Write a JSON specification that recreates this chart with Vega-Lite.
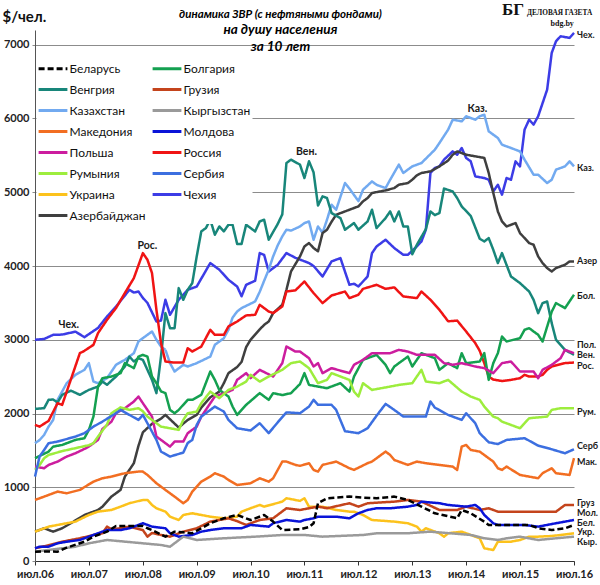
{
  "$schema": "https://vega.github.io/schema/vega-lite/v6.json",
  "width": 539,
  "height": 531,
  "autosize": {"type": "none"},
  "padding": {"left": 35, "top": 30, "right": 26, "bottom": 24},
  "background": "white",
  "title": {
    "text": "динамика ЗВР (с нефтяными фондами)",
    "subtitle": ["на душу населения", "за 10 лет"],
    "font": "Lato",
    "fontSize": 11.5,
    "fontStyle": "italic",
    "fontWeight": "bold",
    "color": "black",
    "subtitleFont": "Lato",
    "subtitleFontSize": 13.5,
    "subtitleFontStyle": "italic",
    "subtitleFontWeight": "bold",
    "subtitleColor": "black",
    "subtitleLineHeight": 17,
    "subtitlePadding": 3,
    "anchor": "middle",
    "dx": -24,
    "offset": -53
  },
  "config": {
    "view": {"stroke": null},
    "font": "Lato"
  },
  "datasets": {
    "series": [
      {"country": "Чехия", "date": "2006-07", "value": 3000},
      {"country": "Чехия", "date": "2006-09", "value": 3010},
      {"country": "Чехия", "date": "2006-11", "value": 3067},
      {"country": "Чехия", "date": "2007-01", "value": 3070},
      {"country": "Чехия", "date": "2007-04", "value": 3110},
      {"country": "Чехия", "date": "2007-06", "value": 3035},
      {"country": "Чехия", "date": "2007-09", "value": 3160},
      {"country": "Чехия", "date": "2007-11", "value": 3315},
      {"country": "Чехия", "date": "2008-01", "value": 3450},
      {"country": "Чехия", "date": "2008-04", "value": 3677},
      {"country": "Чехия", "date": "2008-05", "value": 3640},
      {"country": "Чехия", "date": "2008-06", "value": 3654},
      {"country": "Чехия", "date": "2008-07", "value": 3568},
      {"country": "Чехия", "date": "2008-08", "value": 3500},
      {"country": "Чехия", "date": "2008-10", "value": 3247},
      {"country": "Чехия", "date": "2008-11", "value": 3260},
      {"country": "Чехия", "date": "2008-12", "value": 3542},
      {"country": "Чехия", "date": "2009-01", "value": 3338},
      {"country": "Чехия", "date": "2009-03", "value": 3542},
      {"country": "Чехия", "date": "2009-05", "value": 3677},
      {"country": "Чехия", "date": "2009-07", "value": 3722},
      {"country": "Чехия", "date": "2009-10", "value": 4040},
      {"country": "Чехия", "date": "2009-12", "value": 3950},
      {"country": "Чехия", "date": "2010-02", "value": 3813},
      {"country": "Чехия", "date": "2010-04", "value": 3722},
      {"country": "Чехия", "date": "2010-05", "value": 3590},
      {"country": "Чехия", "date": "2010-06", "value": 3745},
      {"country": "Чехия", "date": "2010-08", "value": 3800},
      {"country": "Чехия", "date": "2010-09", "value": 4175},
      {"country": "Чехия", "date": "2010-10", "value": 4150},
      {"country": "Чехия", "date": "2010-11", "value": 3926},
      {"country": "Чехия", "date": "2011-01", "value": 4017},
      {"country": "Чехия", "date": "2011-03", "value": 4175},
      {"country": "Чехия", "date": "2011-05", "value": 4111},
      {"country": "Чехия", "date": "2011-08", "value": 4040},
      {"country": "Чехия", "date": "2011-09", "value": 4000},
      {"country": "Чехия", "date": "2011-11", "value": 3858},
      {"country": "Чехия", "date": "2012-01", "value": 4062},
      {"country": "Чехия", "date": "2012-03", "value": 4107},
      {"country": "Чехия", "date": "2012-05", "value": 3745},
      {"country": "Чехия", "date": "2012-06", "value": 3760},
      {"country": "Чехия", "date": "2012-07", "value": 3722},
      {"country": "Чехия", "date": "2012-09", "value": 3858},
      {"country": "Чехия", "date": "2012-10", "value": 4175},
      {"country": "Чехия", "date": "2012-11", "value": 4265},
      {"country": "Чехия", "date": "2013-01", "value": 4356},
      {"country": "Чехия", "date": "2013-03", "value": 4243},
      {"country": "Чехия", "date": "2013-05", "value": 4152},
      {"country": "Чехия", "date": "2013-06", "value": 4152},
      {"country": "Чехия", "date": "2013-08", "value": 4265},
      {"country": "Чехия", "date": "2013-09", "value": 4333},
      {"country": "Чехия", "date": "2013-10", "value": 4492},
      {"country": "Чехия", "date": "2013-11", "value": 5261},
      {"country": "Чехия", "date": "2013-12", "value": 5329},
      {"country": "Чехия", "date": "2014-01", "value": 5351},
      {"country": "Чехия", "date": "2014-02", "value": 5442},
      {"country": "Чехия", "date": "2014-04", "value": 5554},
      {"country": "Чехия", "date": "2014-05", "value": 5509},
      {"country": "Чехия", "date": "2014-06", "value": 5600},
      {"country": "Чехия", "date": "2014-07", "value": 5465},
      {"country": "Чехия", "date": "2014-08", "value": 5419},
      {"country": "Чехия", "date": "2014-09", "value": 5215},
      {"country": "Чехия", "date": "2014-11", "value": 5193},
      {"country": "Чехия", "date": "2014-12", "value": 5170},
      {"country": "Чехия", "date": "2015-01", "value": 5011},
      {"country": "Чехия", "date": "2015-02", "value": 5102},
      {"country": "Чехия", "date": "2015-03", "value": 4967},
      {"country": "Чехия", "date": "2015-04", "value": 5193},
      {"country": "Чехия", "date": "2015-05", "value": 5170},
      {"country": "Чехия", "date": "2015-06", "value": 5419},
      {"country": "Чехия", "date": "2015-07", "value": 5351},
      {"country": "Чехия", "date": "2015-08", "value": 5849},
      {"country": "Чехия", "date": "2015-09", "value": 5984},
      {"country": "Чехия", "date": "2015-10", "value": 5917},
      {"country": "Чехия", "date": "2015-11", "value": 6030},
      {"country": "Чехия", "date": "2016-01", "value": 6391},
      {"country": "Чехия", "date": "2016-02", "value": 6890},
      {"country": "Чехия", "date": "2016-03", "value": 7047},
      {"country": "Чехия", "date": "2016-04", "value": 7115},
      {"country": "Чехия", "date": "2016-06", "value": 7093},
      {"country": "Чехия", "date": "2016-07", "value": 7160},

      {"country": "Казахстан", "date": "2006-07", "value": 1597},
      {"country": "Казахстан", "date": "2006-08", "value": 1640},
      {"country": "Казахстан", "date": "2006-09", "value": 1710},
      {"country": "Казахстан", "date": "2006-10", "value": 1822},
      {"country": "Казахстан", "date": "2006-11", "value": 1913},
      {"country": "Казахстан", "date": "2006-12", "value": 2185},
      {"country": "Казахстан", "date": "2007-02", "value": 2411},
      {"country": "Казахстан", "date": "2007-04", "value": 2524},
      {"country": "Казахстан", "date": "2007-06", "value": 2592},
      {"country": "Казахстан", "date": "2007-07", "value": 2683},
      {"country": "Казахстан", "date": "2007-08", "value": 2433},
      {"country": "Казахстан", "date": "2007-09", "value": 2411},
      {"country": "Казахстан", "date": "2007-11", "value": 2479},
      {"country": "Казахстан", "date": "2008-01", "value": 2660},
      {"country": "Казахстан", "date": "2008-03", "value": 2728},
      {"country": "Казахстан", "date": "2008-05", "value": 2818},
      {"country": "Казахстан", "date": "2008-06", "value": 2976},
      {"country": "Казахстан", "date": "2008-07", "value": 3022},
      {"country": "Казахстан", "date": "2008-09", "value": 3112},
      {"country": "Казахстан", "date": "2008-10", "value": 3000},
      {"country": "Казахстан", "date": "2008-11", "value": 2908},
      {"country": "Казахстан", "date": "2008-12", "value": 2863},
      {"country": "Казахстан", "date": "2009-01", "value": 2683},
      {"country": "Казахстан", "date": "2009-02", "value": 2569},
      {"country": "Казахстан", "date": "2009-04", "value": 2660},
      {"country": "Казахстан", "date": "2009-05", "value": 2637},
      {"country": "Казахстан", "date": "2009-07", "value": 2683},
      {"country": "Казахстан", "date": "2009-10", "value": 2772},
      {"country": "Казахстан", "date": "2009-11", "value": 2931},
      {"country": "Казахстан", "date": "2010-01", "value": 3022},
      {"country": "Казахстан", "date": "2010-02", "value": 3135},
      {"country": "Казахстан", "date": "2010-03", "value": 3300},
      {"country": "Казахстан", "date": "2010-04", "value": 3383},
      {"country": "Казахстан", "date": "2010-05", "value": 3429},
      {"country": "Казахстан", "date": "2010-08", "value": 3519},
      {"country": "Казахстан", "date": "2010-09", "value": 3650},
      {"country": "Казахстан", "date": "2010-10", "value": 3800},
      {"country": "Казахстан", "date": "2010-11", "value": 3950},
      {"country": "Казахстан", "date": "2010-12", "value": 4130},
      {"country": "Казахстан", "date": "2011-01", "value": 4280},
      {"country": "Казахстан", "date": "2011-02", "value": 4401},
      {"country": "Казахстан", "date": "2011-03", "value": 4492},
      {"country": "Казахстан", "date": "2011-04", "value": 4480},
      {"country": "Казахстан", "date": "2011-06", "value": 4536},
      {"country": "Казахстан", "date": "2011-07", "value": 4582},
      {"country": "Казахстан", "date": "2011-08", "value": 4604},
      {"country": "Казахстан", "date": "2011-09", "value": 4356},
      {"country": "Казахстан", "date": "2011-10", "value": 4536},
      {"country": "Казахстан", "date": "2011-11", "value": 4450},
      {"country": "Казахстан", "date": "2011-12", "value": 4627},
      {"country": "Казахстан", "date": "2012-01", "value": 4831},
      {"country": "Казахстан", "date": "2012-02", "value": 4763},
      {"country": "Казахстан", "date": "2012-04", "value": 5125},
      {"country": "Казахстан", "date": "2012-05", "value": 5050},
      {"country": "Казахстан", "date": "2012-07", "value": 4880},
      {"country": "Казахстан", "date": "2012-08", "value": 5034},
      {"country": "Казахстан", "date": "2012-10", "value": 5147},
      {"country": "Казахстан", "date": "2012-11", "value": 5100},
      {"country": "Казахстан", "date": "2013-01", "value": 5057},
      {"country": "Казахстан", "date": "2013-02", "value": 5170},
      {"country": "Казахстан", "date": "2013-04", "value": 5374},
      {"country": "Казахстан", "date": "2013-05", "value": 5261},
      {"country": "Казахстан", "date": "2013-07", "value": 5351},
      {"country": "Казахстан", "date": "2013-09", "value": 5396},
      {"country": "Казахстан", "date": "2013-12", "value": 5577},
      {"country": "Казахстан", "date": "2014-01", "value": 5668},
      {"country": "Казахстан", "date": "2014-03", "value": 5849},
      {"country": "Казахстан", "date": "2014-04", "value": 5984},
      {"country": "Казахстан", "date": "2014-06", "value": 5962},
      {"country": "Казахстан", "date": "2014-07", "value": 6030},
      {"country": "Казахстан", "date": "2014-09", "value": 5984},
      {"country": "Казахстан", "date": "2014-10", "value": 6030},
      {"country": "Казахстан", "date": "2014-11", "value": 6052},
      {"country": "Казахстан", "date": "2014-12", "value": 5826},
      {"country": "Казахстан", "date": "2015-02", "value": 5736},
      {"country": "Казахстан", "date": "2015-03", "value": 5645},
      {"country": "Казахстан", "date": "2015-05", "value": 5600},
      {"country": "Казахстан", "date": "2015-07", "value": 5554},
      {"country": "Казахстан", "date": "2015-08", "value": 5442},
      {"country": "Казахстан", "date": "2015-10", "value": 5238},
      {"country": "Казахстан", "date": "2015-11", "value": 5238},
      {"country": "Казахстан", "date": "2016-01", "value": 5125},
      {"country": "Казахстан", "date": "2016-02", "value": 5170},
      {"country": "Казахстан", "date": "2016-03", "value": 5306},
      {"country": "Казахстан", "date": "2016-05", "value": 5351},
      {"country": "Казахстан", "date": "2016-06", "value": 5419},
      {"country": "Казахстан", "date": "2016-07", "value": 5351},

      {"country": "Азербайджан", "date": "2006-07", "value": 398},
      {"country": "Азербайджан", "date": "2006-09", "value": 444},
      {"country": "Азербайджан", "date": "2006-11", "value": 398},
      {"country": "Азербайджан", "date": "2007-01", "value": 444},
      {"country": "Азербайджан", "date": "2007-03", "value": 512},
      {"country": "Азербайджан", "date": "2007-06", "value": 624},
      {"country": "Азербайджан", "date": "2007-09", "value": 692},
      {"country": "Азербайджан", "date": "2007-10", "value": 737},
      {"country": "Азербайджан", "date": "2007-12", "value": 873},
      {"country": "Азербайджан", "date": "2008-02", "value": 964},
      {"country": "Азербайджан", "date": "2008-03", "value": 1144},
      {"country": "Азербайджан", "date": "2008-05", "value": 1326},
      {"country": "Азербайджан", "date": "2008-06", "value": 1560},
      {"country": "Азербайджан", "date": "2008-07", "value": 1745},
      {"country": "Азербайджан", "date": "2008-09", "value": 1860},
      {"country": "Азербайджан", "date": "2008-11", "value": 1930},
      {"country": "Азербайджан", "date": "2008-12", "value": 1981},
      {"country": "Азербайджан", "date": "2009-03", "value": 1810},
      {"country": "Азербайджан", "date": "2009-05", "value": 1913},
      {"country": "Азербайджан", "date": "2009-07", "value": 1981},
      {"country": "Азербайджан", "date": "2009-08", "value": 2080},
      {"country": "Азербайджан", "date": "2009-10", "value": 2220},
      {"country": "Азербайджан", "date": "2009-12", "value": 2297},
      {"country": "Азербайджан", "date": "2010-01", "value": 2411},
      {"country": "Азербайджан", "date": "2010-02", "value": 2547},
      {"country": "Азербайджан", "date": "2010-04", "value": 2630},
      {"country": "Азербайджан", "date": "2010-05", "value": 2700},
      {"country": "Азербайджан", "date": "2010-06", "value": 2900},
      {"country": "Азербайджан", "date": "2010-07", "value": 3000},
      {"country": "Азербайджан", "date": "2010-09", "value": 3140},
      {"country": "Азербайджан", "date": "2010-10", "value": 3202},
      {"country": "Азербайджан", "date": "2010-11", "value": 3247},
      {"country": "Азербайджан", "date": "2010-12", "value": 3361},
      {"country": "Азербайджан", "date": "2011-02", "value": 3474},
      {"country": "Азербайджан", "date": "2011-03", "value": 3677},
      {"country": "Азербайджан", "date": "2011-04", "value": 3926},
      {"country": "Азербайджан", "date": "2011-06", "value": 4130},
      {"country": "Азербайджан", "date": "2011-07", "value": 4265},
      {"country": "Азербайджан", "date": "2011-08", "value": 4311},
      {"country": "Азербайджан", "date": "2011-09", "value": 4243},
      {"country": "Азербайджан", "date": "2011-10", "value": 4200},
      {"country": "Азербайджан", "date": "2011-11", "value": 4446},
      {"country": "Азербайджан", "date": "2011-12", "value": 4492},
      {"country": "Азербайджан", "date": "2012-01", "value": 4600},
      {"country": "Азербайджан", "date": "2012-02", "value": 4695},
      {"country": "Азербайджан", "date": "2012-04", "value": 4740},
      {"country": "Азербайджан", "date": "2012-06", "value": 4786},
      {"country": "Азербайджан", "date": "2012-07", "value": 4808},
      {"country": "Азербайджан", "date": "2012-08", "value": 4876},
      {"country": "Азербайджан", "date": "2012-09", "value": 4922},
      {"country": "Азербайджан", "date": "2012-10", "value": 4990},
      {"country": "Азербайджан", "date": "2013-01", "value": 5025},
      {"country": "Азербайджан", "date": "2013-03", "value": 5057},
      {"country": "Азербайджан", "date": "2013-04", "value": 5102},
      {"country": "Азербайджан", "date": "2013-06", "value": 5125},
      {"country": "Азербайджан", "date": "2013-07", "value": 5170},
      {"country": "Азербайджан", "date": "2013-08", "value": 5230},
      {"country": "Азербайджан", "date": "2013-09", "value": 5261},
      {"country": "Азербайджан", "date": "2013-11", "value": 5283},
      {"country": "Азербайджан", "date": "2014-01", "value": 5351},
      {"country": "Азербайджан", "date": "2014-03", "value": 5430},
      {"country": "Азербайджан", "date": "2014-04", "value": 5509},
      {"country": "Азербайджан", "date": "2014-05", "value": 5554},
      {"country": "Азербайджан", "date": "2014-07", "value": 5509},
      {"country": "Азербайджан", "date": "2014-09", "value": 5487},
      {"country": "Азербайджан", "date": "2014-11", "value": 5465},
      {"country": "Азербайджан", "date": "2014-12", "value": 5261},
      {"country": "Азербайджан", "date": "2015-01", "value": 4990},
      {"country": "Азербайджан", "date": "2015-02", "value": 4740},
      {"country": "Азербайджан", "date": "2015-03", "value": 4604},
      {"country": "Азербайджан", "date": "2015-04", "value": 4536},
      {"country": "Азербайджан", "date": "2015-06", "value": 4582},
      {"country": "Азербайджан", "date": "2015-07", "value": 4446},
      {"country": "Азербайджан", "date": "2015-09", "value": 4311},
      {"country": "Азербайджан", "date": "2015-10", "value": 4288},
      {"country": "Азербайджан", "date": "2015-11", "value": 4130},
      {"country": "Азербайджан", "date": "2015-12", "value": 4040},
      {"country": "Азербайджан", "date": "2016-01", "value": 3972},
      {"country": "Азербайджан", "date": "2016-02", "value": 3926},
      {"country": "Азербайджан", "date": "2016-03", "value": 3972},
      {"country": "Азербайджан", "date": "2016-05", "value": 4017},
      {"country": "Азербайджан", "date": "2016-06", "value": 4062},
      {"country": "Азербайджан", "date": "2016-07", "value": 4062},

      {"country": "Венгрия", "date": "2006-07", "value": 2063},
      {"country": "Венгрия", "date": "2006-09", "value": 2072},
      {"country": "Венгрия", "date": "2006-10", "value": 2185},
      {"country": "Венгрия", "date": "2006-11", "value": 2190},
      {"country": "Венгрия", "date": "2006-12", "value": 2150},
      {"country": "Венгрия", "date": "2007-01", "value": 2253},
      {"country": "Венгрия", "date": "2007-03", "value": 2310},
      {"country": "Венгрия", "date": "2007-05", "value": 2253},
      {"country": "Венгрия", "date": "2007-07", "value": 2320},
      {"country": "Венгрия", "date": "2007-09", "value": 2365},
      {"country": "Венгрия", "date": "2007-10", "value": 2433},
      {"country": "Венгрия", "date": "2007-11", "value": 2390},
      {"country": "Венгрия", "date": "2008-01", "value": 2501},
      {"country": "Венгрия", "date": "2008-03", "value": 2637},
      {"country": "Венгрия", "date": "2008-04", "value": 2772},
      {"country": "Венгрия", "date": "2008-05", "value": 2705},
      {"country": "Венгрия", "date": "2008-06", "value": 2750},
      {"country": "Венгрия", "date": "2008-07", "value": 2728},
      {"country": "Венгрия", "date": "2008-08", "value": 2592},
      {"country": "Венгрия", "date": "2008-09", "value": 2456},
      {"country": "Венгрия", "date": "2008-10", "value": 2276},
      {"country": "Венгрия", "date": "2008-11", "value": 2772},
      {"country": "Венгрия", "date": "2008-12", "value": 3361},
      {"country": "Венгрия", "date": "2009-01", "value": 3157},
      {"country": "Венгрия", "date": "2009-02", "value": 3157},
      {"country": "Венгрия", "date": "2009-03", "value": 3700},
      {"country": "Венгрия", "date": "2009-04", "value": 3542},
      {"country": "Венгрия", "date": "2009-05", "value": 3677},
      {"country": "Венгрия", "date": "2009-06", "value": 3768},
      {"country": "Венгрия", "date": "2009-07", "value": 4130},
      {"country": "Венгрия", "date": "2009-08", "value": 4469},
      {"country": "Венгрия", "date": "2009-09", "value": 4514},
      {"country": "Венгрия", "date": "2009-10", "value": 4627},
      {"country": "Венгрия", "date": "2009-11", "value": 4424},
      {"country": "Венгрия", "date": "2009-12", "value": 4536},
      {"country": "Венгрия", "date": "2010-01", "value": 4469},
      {"country": "Венгрия", "date": "2010-02", "value": 4559},
      {"country": "Венгрия", "date": "2010-03", "value": 4559},
      {"country": "Венгрия", "date": "2010-04", "value": 4300},
      {"country": "Венгрия", "date": "2010-05", "value": 4300},
      {"country": "Венгрия", "date": "2010-06", "value": 4559},
      {"country": "Венгрия", "date": "2010-08", "value": 4469},
      {"country": "Венгрия", "date": "2010-09", "value": 4605},
      {"country": "Венгрия", "date": "2010-10", "value": 4627},
      {"country": "Венгрия", "date": "2010-11", "value": 4356},
      {"country": "Венгрия", "date": "2011-01", "value": 4570},
      {"country": "Венгрия", "date": "2011-02", "value": 4700},
      {"country": "Венгрия", "date": "2011-03", "value": 5396},
      {"country": "Венгрия", "date": "2011-04", "value": 5442},
      {"country": "Венгрия", "date": "2011-06", "value": 5374},
      {"country": "Венгрия", "date": "2011-07", "value": 5193},
      {"country": "Венгрия", "date": "2011-08", "value": 5420},
      {"country": "Венгрия", "date": "2011-09", "value": 5270},
      {"country": "Венгрия", "date": "2011-10", "value": 4820},
      {"country": "Венгрия", "date": "2011-11", "value": 4944},
      {"country": "Венгрия", "date": "2011-12", "value": 4922},
      {"country": "Венгрия", "date": "2012-01", "value": 4718},
      {"country": "Венгрия", "date": "2012-03", "value": 4650},
      {"country": "Венгрия", "date": "2012-04", "value": 4492},
      {"country": "Венгрия", "date": "2012-05", "value": 4536},
      {"country": "Венгрия", "date": "2012-06", "value": 4582},
      {"country": "Венгрия", "date": "2012-07", "value": 4492},
      {"country": "Венгрия", "date": "2012-09", "value": 4604},
      {"country": "Венгрия", "date": "2012-10", "value": 4763},
      {"country": "Венгрия", "date": "2012-11", "value": 4514},
      {"country": "Венгрия", "date": "2013-01", "value": 4650},
      {"country": "Венгрия", "date": "2013-02", "value": 4740},
      {"country": "Венгрия", "date": "2013-03", "value": 4604},
      {"country": "Венгрия", "date": "2013-04", "value": 4740},
      {"country": "Венгрия", "date": "2013-05", "value": 4536},
      {"country": "Венгрия", "date": "2013-06", "value": 4536},
      {"country": "Венгрия", "date": "2013-07", "value": 4160},
      {"country": "Венгрия", "date": "2013-08", "value": 4288},
      {"country": "Венгрия", "date": "2013-10", "value": 4500},
      {"country": "Венгрия", "date": "2013-11", "value": 4740},
      {"country": "Венгрия", "date": "2013-12", "value": 4690},
      {"country": "Венгрия", "date": "2014-01", "value": 4718},
      {"country": "Венгрия", "date": "2014-02", "value": 5050},
      {"country": "Венгрия", "date": "2014-04", "value": 5011},
      {"country": "Венгрия", "date": "2014-05", "value": 4922},
      {"country": "Венгрия", "date": "2014-06", "value": 4808},
      {"country": "Венгрия", "date": "2014-08", "value": 4680},
      {"country": "Венгрия", "date": "2014-10", "value": 4370},
      {"country": "Венгрия", "date": "2014-11", "value": 4333},
      {"country": "Венгрия", "date": "2014-12", "value": 4378},
      {"country": "Венгрия", "date": "2015-01", "value": 4220},
      {"country": "Венгрия", "date": "2015-02", "value": 4040},
      {"country": "Венгрия", "date": "2015-03", "value": 4175},
      {"country": "Венгрия", "date": "2015-05", "value": 3858},
      {"country": "Венгрия", "date": "2015-07", "value": 3768},
      {"country": "Венгрия", "date": "2015-09", "value": 3654},
      {"country": "Венгрия", "date": "2015-10", "value": 3542},
      {"country": "Венгрия", "date": "2015-11", "value": 3361},
      {"country": "Венгрия", "date": "2015-12", "value": 3497},
      {"country": "Венгрия", "date": "2016-01", "value": 3519},
      {"country": "Венгрия", "date": "2016-02", "value": 3225},
      {"country": "Венгрия", "date": "2016-03", "value": 3000},
      {"country": "Венгрия", "date": "2016-05", "value": 2863},
      {"country": "Венгрия", "date": "2016-07", "value": 2795},

      {"country": "Россия", "date": "2006-07", "value": 1846},
      {"country": "Россия", "date": "2006-08", "value": 1822},
      {"country": "Россия", "date": "2006-10", "value": 1900},
      {"country": "Россия", "date": "2006-12", "value": 2140},
      {"country": "Россия", "date": "2007-01", "value": 2117},
      {"country": "Россия", "date": "2007-02", "value": 2297},
      {"country": "Россия", "date": "2007-05", "value": 2818},
      {"country": "Россия", "date": "2007-06", "value": 2850},
      {"country": "Россия", "date": "2007-08", "value": 2931},
      {"country": "Россия", "date": "2007-09", "value": 3090},
      {"country": "Россия", "date": "2007-11", "value": 3270},
      {"country": "Россия", "date": "2008-01", "value": 3430},
      {"country": "Россия", "date": "2008-03", "value": 3633},
      {"country": "Россия", "date": "2008-05", "value": 3836},
      {"country": "Россия", "date": "2008-07", "value": 4175},
      {"country": "Россия", "date": "2008-08", "value": 4085},
      {"country": "Россия", "date": "2008-09", "value": 3904},
      {"country": "Россия", "date": "2008-10", "value": 3406},
      {"country": "Россия", "date": "2008-11", "value": 2954},
      {"country": "Россия", "date": "2008-12", "value": 2705},
      {"country": "Россия", "date": "2009-02", "value": 2690},
      {"country": "Россия", "date": "2009-04", "value": 2690},
      {"country": "Россия", "date": "2009-05", "value": 2886},
      {"country": "Россия", "date": "2009-06", "value": 2840},
      {"country": "Россия", "date": "2009-08", "value": 2908},
      {"country": "Россия", "date": "2009-10", "value": 3135},
      {"country": "Россия", "date": "2009-11", "value": 3067},
      {"country": "Россия", "date": "2010-01", "value": 3067},
      {"country": "Россия", "date": "2010-02", "value": 3180},
      {"country": "Россия", "date": "2010-04", "value": 3247},
      {"country": "Россия", "date": "2010-06", "value": 3330},
      {"country": "Россия", "date": "2010-08", "value": 3338},
      {"country": "Россия", "date": "2010-09", "value": 3474},
      {"country": "Россия", "date": "2010-11", "value": 3383},
      {"country": "Россия", "date": "2010-12", "value": 3361},
      {"country": "Россия", "date": "2011-02", "value": 3451},
      {"country": "Россия", "date": "2011-03", "value": 3654},
      {"country": "Россия", "date": "2011-05", "value": 3670},
      {"country": "Россия", "date": "2011-07", "value": 3790},
      {"country": "Россия", "date": "2011-09", "value": 3633},
      {"country": "Россия", "date": "2011-11", "value": 3497},
      {"country": "Россия", "date": "2012-01", "value": 3600},
      {"country": "Россия", "date": "2012-04", "value": 3654},
      {"country": "Россия", "date": "2012-05", "value": 3565},
      {"country": "Россия", "date": "2012-07", "value": 3610},
      {"country": "Россия", "date": "2012-08", "value": 3690},
      {"country": "Россия", "date": "2012-11", "value": 3745},
      {"country": "Россия", "date": "2013-01", "value": 3690},
      {"country": "Россия", "date": "2013-03", "value": 3710},
      {"country": "Россия", "date": "2013-05", "value": 3587},
      {"country": "Россия", "date": "2013-08", "value": 3565},
      {"country": "Россия", "date": "2013-09", "value": 3654},
      {"country": "Россия", "date": "2013-11", "value": 3542},
      {"country": "Россия", "date": "2014-01", "value": 3406},
      {"country": "Россия", "date": "2014-03", "value": 3250},
      {"country": "Россия", "date": "2014-05", "value": 3260},
      {"country": "Россия", "date": "2014-07", "value": 3112},
      {"country": "Россия", "date": "2014-09", "value": 2954},
      {"country": "Россия", "date": "2014-10", "value": 2850},
      {"country": "Россия", "date": "2014-11", "value": 2683},
      {"country": "Россия", "date": "2014-12", "value": 2500},
      {"country": "Россия", "date": "2015-01", "value": 2460},
      {"country": "Россия", "date": "2015-03", "value": 2440},
      {"country": "Россия", "date": "2015-05", "value": 2456},
      {"country": "Россия", "date": "2015-07", "value": 2479},
      {"country": "Россия", "date": "2015-08", "value": 2524},
      {"country": "Россия", "date": "2015-09", "value": 2501},
      {"country": "Россия", "date": "2015-11", "value": 2501},
      {"country": "Россия", "date": "2015-12", "value": 2524},
      {"country": "Россия", "date": "2016-01", "value": 2592},
      {"country": "Россия", "date": "2016-02", "value": 2637},
      {"country": "Россия", "date": "2016-05", "value": 2683},
      {"country": "Россия", "date": "2016-07", "value": 2691},

      {"country": "Болгария", "date": "2006-07", "value": 1394},
      {"country": "Болгария", "date": "2006-10", "value": 1483},
      {"country": "Болгария", "date": "2006-11", "value": 1551},
      {"country": "Болгария", "date": "2007-01", "value": 1574},
      {"country": "Болгария", "date": "2007-02", "value": 1597},
      {"country": "Болгария", "date": "2007-04", "value": 1642},
      {"country": "Болгария", "date": "2007-06", "value": 1665},
      {"country": "Болгария", "date": "2007-07", "value": 1778},
      {"country": "Болгария", "date": "2007-08", "value": 1958},
      {"country": "Болгария", "date": "2007-09", "value": 2365},
      {"country": "Болгария", "date": "2007-10", "value": 2479},
      {"country": "Болгария", "date": "2007-12", "value": 2501},
      {"country": "Болгария", "date": "2008-02", "value": 2547},
      {"country": "Болгария", "date": "2008-03", "value": 2683},
      {"country": "Болгария", "date": "2008-05", "value": 2615},
      {"country": "Болгария", "date": "2008-06", "value": 2772},
      {"country": "Болгария", "date": "2008-07", "value": 2795},
      {"country": "Болгария", "date": "2008-08", "value": 2772},
      {"country": "Болгария", "date": "2008-09", "value": 2501},
      {"country": "Болгария", "date": "2008-10", "value": 2411},
      {"country": "Болгария", "date": "2008-11", "value": 2300},
      {"country": "Болгария", "date": "2008-12", "value": 2276},
      {"country": "Болгария", "date": "2009-01", "value": 2049},
      {"country": "Болгария", "date": "2009-02", "value": 2004},
      {"country": "Болгария", "date": "2009-03", "value": 2049},
      {"country": "Болгария", "date": "2009-05", "value": 2185},
      {"country": "Болгария", "date": "2009-06", "value": 2185},
      {"country": "Болгария", "date": "2009-08", "value": 2253},
      {"country": "Болгария", "date": "2009-10", "value": 2569},
      {"country": "Болгария", "date": "2009-11", "value": 2456},
      {"country": "Болгария", "date": "2009-12", "value": 2320},
      {"country": "Болгария", "date": "2010-02", "value": 2230},
      {"country": "Болгария", "date": "2010-03", "value": 2094},
      {"country": "Болгария", "date": "2010-04", "value": 1981},
      {"country": "Болгария", "date": "2010-06", "value": 2117},
      {"country": "Болгария", "date": "2010-09", "value": 2276},
      {"country": "Болгария", "date": "2010-11", "value": 2185},
      {"country": "Болгария", "date": "2010-12", "value": 2276},
      {"country": "Болгария", "date": "2011-02", "value": 2250},
      {"country": "Болгария", "date": "2011-04", "value": 2276},
      {"country": "Болгария", "date": "2011-06", "value": 2400},
      {"country": "Болгария", "date": "2011-07", "value": 2547},
      {"country": "Болгария", "date": "2011-08", "value": 2388},
      {"country": "Болгария", "date": "2011-10", "value": 2365},
      {"country": "Болгария", "date": "2011-12", "value": 2343},
      {"country": "Болгария", "date": "2012-03", "value": 2411},
      {"country": "Болгария", "date": "2012-05", "value": 2297},
      {"country": "Болгария", "date": "2012-06", "value": 2501},
      {"country": "Болгария", "date": "2012-08", "value": 2728},
      {"country": "Болгария", "date": "2012-11", "value": 2795},
      {"country": "Болгария", "date": "2013-01", "value": 2660},
      {"country": "Болгария", "date": "2013-02", "value": 2547},
      {"country": "Болгария", "date": "2013-03", "value": 2637},
      {"country": "Болгария", "date": "2013-06", "value": 2772},
      {"country": "Болгария", "date": "2013-07", "value": 2637},
      {"country": "Болгария", "date": "2013-09", "value": 2818},
      {"country": "Болгария", "date": "2013-12", "value": 2750},
      {"country": "Болгария", "date": "2014-01", "value": 2592},
      {"country": "Болгария", "date": "2014-03", "value": 2683},
      {"country": "Болгария", "date": "2014-05", "value": 2615},
      {"country": "Болгария", "date": "2014-06", "value": 2818},
      {"country": "Болгария", "date": "2014-07", "value": 2683},
      {"country": "Болгария", "date": "2014-10", "value": 2705},
      {"country": "Болгария", "date": "2014-11", "value": 2818},
      {"country": "Болгария", "date": "2014-12", "value": 2456},
      {"country": "Болгария", "date": "2015-01", "value": 2683},
      {"country": "Болгария", "date": "2015-02", "value": 2818},
      {"country": "Болгария", "date": "2015-03", "value": 3044},
      {"country": "Болгария", "date": "2015-04", "value": 2976},
      {"country": "Болгария", "date": "2015-07", "value": 3022},
      {"country": "Болгария", "date": "2015-08", "value": 3135},
      {"country": "Болгария", "date": "2015-09", "value": 3157},
      {"country": "Болгария", "date": "2015-11", "value": 3067},
      {"country": "Болгария", "date": "2015-12", "value": 2976},
      {"country": "Болгария", "date": "2016-02", "value": 3380},
      {"country": "Болгария", "date": "2016-03", "value": 3497},
      {"country": "Болгария", "date": "2016-05", "value": 3429},
      {"country": "Болгария", "date": "2016-07", "value": 3610},

      {"country": "Польша", "date": "2006-07", "value": 1280},
      {"country": "Польша", "date": "2006-09", "value": 1258},
      {"country": "Польша", "date": "2006-10", "value": 1303},
      {"country": "Польша", "date": "2006-12", "value": 1348},
      {"country": "Польша", "date": "2007-02", "value": 1416},
      {"country": "Польша", "date": "2007-04", "value": 1461},
      {"country": "Польша", "date": "2007-06", "value": 1520},
      {"country": "Польша", "date": "2007-07", "value": 1551},
      {"country": "Польша", "date": "2007-08", "value": 1597},
      {"country": "Польша", "date": "2007-09", "value": 1642},
      {"country": "Польша", "date": "2007-10", "value": 1790},
      {"country": "Польша", "date": "2007-12", "value": 1890},
      {"country": "Польша", "date": "2008-01", "value": 2004},
      {"country": "Польша", "date": "2008-03", "value": 2072},
      {"country": "Польша", "date": "2008-04", "value": 2117},
      {"country": "Польша", "date": "2008-05", "value": 2162},
      {"country": "Польша", "date": "2008-06", "value": 2230},
      {"country": "Польша", "date": "2008-07", "value": 2140},
      {"country": "Польша", "date": "2008-09", "value": 1958},
      {"country": "Польша", "date": "2008-10", "value": 1687},
      {"country": "Польша", "date": "2008-11", "value": 1642},
      {"country": "Польша", "date": "2009-01", "value": 1551},
      {"country": "Польша", "date": "2009-02", "value": 1619},
      {"country": "Польша", "date": "2009-04", "value": 1619},
      {"country": "Польша", "date": "2009-05", "value": 1733},
      {"country": "Польша", "date": "2009-07", "value": 1822},
      {"country": "Польша", "date": "2009-08", "value": 1958},
      {"country": "Польша", "date": "2009-11", "value": 2230},
      {"country": "Польша", "date": "2010-02", "value": 2297},
      {"country": "Польша", "date": "2010-03", "value": 2320},
      {"country": "Польша", "date": "2010-04", "value": 2456},
      {"country": "Польша", "date": "2010-06", "value": 2547},
      {"country": "Польша", "date": "2010-07", "value": 2479},
      {"country": "Польша", "date": "2010-09", "value": 2592},
      {"country": "Польша", "date": "2010-12", "value": 2501},
      {"country": "Польша", "date": "2011-02", "value": 2683},
      {"country": "Польша", "date": "2011-03", "value": 2908},
      {"country": "Польша", "date": "2011-05", "value": 2840},
      {"country": "Польша", "date": "2011-06", "value": 2840},
      {"country": "Польша", "date": "2011-08", "value": 2750},
      {"country": "Польша", "date": "2011-09", "value": 2637},
      {"country": "Польша", "date": "2011-10", "value": 2683},
      {"country": "Польша", "date": "2011-11", "value": 2547},
      {"country": "Польша", "date": "2012-01", "value": 2615},
      {"country": "Польша", "date": "2012-05", "value": 2547},
      {"country": "Польша", "date": "2012-06", "value": 2660},
      {"country": "Польша", "date": "2012-08", "value": 2728},
      {"country": "Польша", "date": "2012-10", "value": 2818},
      {"country": "Польша", "date": "2013-02", "value": 2818},
      {"country": "Польша", "date": "2013-04", "value": 2863},
      {"country": "Польша", "date": "2013-06", "value": 2840},
      {"country": "Польша", "date": "2013-08", "value": 2795},
      {"country": "Польша", "date": "2013-12", "value": 2795},
      {"country": "Польша", "date": "2014-02", "value": 2683},
      {"country": "Польша", "date": "2014-04", "value": 2660},
      {"country": "Польша", "date": "2014-06", "value": 2683},
      {"country": "Польша", "date": "2014-09", "value": 2637},
      {"country": "Польша", "date": "2014-11", "value": 2615},
      {"country": "Польша", "date": "2015-01", "value": 2547},
      {"country": "Польша", "date": "2015-03", "value": 2683},
      {"country": "Польша", "date": "2015-05", "value": 2705},
      {"country": "Польша", "date": "2015-07", "value": 2569},
      {"country": "Польша", "date": "2015-10", "value": 2569},
      {"country": "Польша", "date": "2015-11", "value": 2479},
      {"country": "Польша", "date": "2015-12", "value": 2592},
      {"country": "Польша", "date": "2016-02", "value": 2660},
      {"country": "Польша", "date": "2016-04", "value": 2750},
      {"country": "Польша", "date": "2016-05", "value": 2863},
      {"country": "Польша", "date": "2016-07", "value": 2818},

      {"country": "Румыния", "date": "2006-07", "value": 1235},
      {"country": "Румыния", "date": "2006-08", "value": 1300},
      {"country": "Румыния", "date": "2006-09", "value": 1394},
      {"country": "Румыния", "date": "2006-10", "value": 1438},
      {"country": "Румыния", "date": "2007-01", "value": 1490},
      {"country": "Румыния", "date": "2007-04", "value": 1530},
      {"country": "Румыния", "date": "2007-07", "value": 1570},
      {"country": "Румыния", "date": "2007-08", "value": 1597},
      {"country": "Румыния", "date": "2007-09", "value": 1687},
      {"country": "Румыния", "date": "2007-11", "value": 1850},
      {"country": "Румыния", "date": "2007-12", "value": 2004},
      {"country": "Румыния", "date": "2008-02", "value": 2083},
      {"country": "Румыния", "date": "2008-04", "value": 2049},
      {"country": "Румыния", "date": "2008-06", "value": 2072},
      {"country": "Румыния", "date": "2008-07", "value": 2030},
      {"country": "Румыния", "date": "2008-08", "value": 1958},
      {"country": "Румыния", "date": "2008-09", "value": 1913},
      {"country": "Румыния", "date": "2008-11", "value": 1822},
      {"country": "Румыния", "date": "2009-01", "value": 1800},
      {"country": "Румыния", "date": "2009-03", "value": 1778},
      {"country": "Румыния", "date": "2009-04", "value": 1913},
      {"country": "Румыния", "date": "2009-05", "value": 2004},
      {"country": "Румыния", "date": "2009-07", "value": 2026},
      {"country": "Румыния", "date": "2009-08", "value": 2140},
      {"country": "Румыния", "date": "2009-10", "value": 2297},
      {"country": "Румыния", "date": "2009-12", "value": 2208},
      {"country": "Румыния", "date": "2010-02", "value": 2320},
      {"country": "Румыния", "date": "2010-04", "value": 2365},
      {"country": "Румыния", "date": "2010-06", "value": 2433},
      {"country": "Румыния", "date": "2010-07", "value": 2524},
      {"country": "Румыния", "date": "2010-09", "value": 2433},
      {"country": "Румыния", "date": "2010-11", "value": 2501},
      {"country": "Румыния", "date": "2011-02", "value": 2592},
      {"country": "Румыния", "date": "2011-04", "value": 2683},
      {"country": "Румыния", "date": "2011-06", "value": 2705},
      {"country": "Румыния", "date": "2011-08", "value": 2615},
      {"country": "Румыния", "date": "2011-10", "value": 2411},
      {"country": "Румыния", "date": "2011-12", "value": 2456},
      {"country": "Румыния", "date": "2012-01", "value": 2547},
      {"country": "Румыния", "date": "2012-05", "value": 2456},
      {"country": "Румыния", "date": "2012-06", "value": 2297},
      {"country": "Румыния", "date": "2012-07", "value": 2230},
      {"country": "Румыния", "date": "2012-08", "value": 2411},
      {"country": "Румыния", "date": "2012-10", "value": 2320},
      {"country": "Румыния", "date": "2013-02", "value": 2365},
      {"country": "Румыния", "date": "2013-04", "value": 2388},
      {"country": "Румыния", "date": "2013-07", "value": 2411},
      {"country": "Румыния", "date": "2013-09", "value": 2592},
      {"country": "Румыния", "date": "2013-10", "value": 2433},
      {"country": "Румыния", "date": "2014-01", "value": 2411},
      {"country": "Румыния", "date": "2014-03", "value": 2456},
      {"country": "Румыния", "date": "2014-06", "value": 2297},
      {"country": "Румыния", "date": "2014-08", "value": 2230},
      {"country": "Румыния", "date": "2014-10", "value": 2185},
      {"country": "Румыния", "date": "2014-11", "value": 2094},
      {"country": "Румыния", "date": "2015-01", "value": 1958},
      {"country": "Румыния", "date": "2015-02", "value": 1936},
      {"country": "Румыния", "date": "2015-03", "value": 1890},
      {"country": "Румыния", "date": "2015-07", "value": 1800},
      {"country": "Румыния", "date": "2015-08", "value": 1868},
      {"country": "Румыния", "date": "2015-09", "value": 1936},
      {"country": "Румыния", "date": "2016-01", "value": 1958},
      {"country": "Румыния", "date": "2016-02", "value": 2049},
      {"country": "Румыния", "date": "2016-04", "value": 2072},
      {"country": "Румыния", "date": "2016-07", "value": 2072},

      {"country": "Сербия", "date": "2006-07", "value": 1144},
      {"country": "Сербия", "date": "2006-08", "value": 1416},
      {"country": "Сербия", "date": "2006-09", "value": 1506},
      {"country": "Сербия", "date": "2006-10", "value": 1597},
      {"country": "Сербия", "date": "2006-12", "value": 1619},
      {"country": "Сербия", "date": "2007-04", "value": 1687},
      {"country": "Сербия", "date": "2007-06", "value": 1733},
      {"country": "Сербия", "date": "2007-08", "value": 1822},
      {"country": "Сербия", "date": "2007-10", "value": 1890},
      {"country": "Сербия", "date": "2008-01", "value": 2004},
      {"country": "Сербия", "date": "2008-02", "value": 2049},
      {"country": "Сербия", "date": "2008-04", "value": 1981},
      {"country": "Сербия", "date": "2008-06", "value": 1913},
      {"country": "Сербия", "date": "2008-07", "value": 1981},
      {"country": "Сербия", "date": "2008-08", "value": 1868},
      {"country": "Сербия", "date": "2008-10", "value": 1642},
      {"country": "Сербия", "date": "2008-11", "value": 1483},
      {"country": "Сербия", "date": "2009-01", "value": 1416},
      {"country": "Сербия", "date": "2009-04", "value": 1470},
      {"country": "Сербия", "date": "2009-05", "value": 1600},
      {"country": "Сербия", "date": "2009-06", "value": 1642},
      {"country": "Сербия", "date": "2009-07", "value": 1846},
      {"country": "Сербия", "date": "2009-08", "value": 1958},
      {"country": "Сербия", "date": "2009-11", "value": 2094},
      {"country": "Сербия", "date": "2010-01", "value": 2026},
      {"country": "Сербия", "date": "2010-02", "value": 1913},
      {"country": "Сербия", "date": "2010-04", "value": 1800},
      {"country": "Сербия", "date": "2010-07", "value": 1770},
      {"country": "Сербия", "date": "2010-09", "value": 1868},
      {"country": "Сербия", "date": "2010-11", "value": 1733},
      {"country": "Сербия", "date": "2011-01", "value": 1880},
      {"country": "Сербия", "date": "2011-03", "value": 2015},
      {"country": "Сербия", "date": "2011-06", "value": 2004},
      {"country": "Сербия", "date": "2011-08", "value": 2094},
      {"country": "Сербия", "date": "2011-09", "value": 2185},
      {"country": "Сербия", "date": "2011-10", "value": 2117},
      {"country": "Сербия", "date": "2012-01", "value": 2117},
      {"country": "Сербия", "date": "2012-02", "value": 2049},
      {"country": "Сербия", "date": "2012-04", "value": 1760},
      {"country": "Сербия", "date": "2012-07", "value": 1733},
      {"country": "Сербия", "date": "2012-09", "value": 1800},
      {"country": "Сербия", "date": "2012-11", "value": 1970},
      {"country": "Сербия", "date": "2013-01", "value": 2130},
      {"country": "Сербия", "date": "2013-03", "value": 2049},
      {"country": "Сербия", "date": "2013-05", "value": 1958},
      {"country": "Сербия", "date": "2013-10", "value": 1958},
      {"country": "Сербия", "date": "2013-11", "value": 2162},
      {"country": "Сербия", "date": "2013-12", "value": 2080},
      {"country": "Сербия", "date": "2014-03", "value": 1981},
      {"country": "Сербия", "date": "2014-06", "value": 1913},
      {"country": "Сербия", "date": "2014-07", "value": 2004},
      {"country": "Сербия", "date": "2014-09", "value": 1868},
      {"country": "Сербия", "date": "2014-10", "value": 1733},
      {"country": "Сербия", "date": "2014-12", "value": 1610},
      {"country": "Сербия", "date": "2015-02", "value": 1585},
      {"country": "Сербия", "date": "2015-04", "value": 1642},
      {"country": "Сербия", "date": "2015-08", "value": 1665},
      {"country": "Сербия", "date": "2015-11", "value": 1565},
      {"country": "Сербия", "date": "2016-02", "value": 1515},
      {"country": "Сербия", "date": "2016-05", "value": 1461},
      {"country": "Сербия", "date": "2016-07", "value": 1515},

      {"country": "Македония", "date": "2006-07", "value": 828},
      {"country": "Македония", "date": "2006-09", "value": 873},
      {"country": "Македония", "date": "2006-12", "value": 941},
      {"country": "Македония", "date": "2007-02", "value": 918},
      {"country": "Македония", "date": "2007-05", "value": 964},
      {"country": "Македония", "date": "2007-08", "value": 1076},
      {"country": "Македония", "date": "2007-10", "value": 1122},
      {"country": "Македония", "date": "2007-12", "value": 1144},
      {"country": "Македония", "date": "2008-03", "value": 1190},
      {"country": "Македония", "date": "2008-06", "value": 1212},
      {"country": "Македония", "date": "2008-07", "value": 1212},
      {"country": "Македония", "date": "2008-08", "value": 1167},
      {"country": "Македония", "date": "2008-10", "value": 1054},
      {"country": "Македония", "date": "2009-01", "value": 918},
      {"country": "Македония", "date": "2009-02", "value": 873},
      {"country": "Македония", "date": "2009-04", "value": 783},
      {"country": "Македония", "date": "2009-05", "value": 828},
      {"country": "Македония", "date": "2009-06", "value": 941},
      {"country": "Македония", "date": "2009-08", "value": 1076},
      {"country": "Македония", "date": "2009-10", "value": 1144},
      {"country": "Македония", "date": "2009-11", "value": 1190},
      {"country": "Македония", "date": "2010-01", "value": 1144},
      {"country": "Македония", "date": "2010-02", "value": 1099},
      {"country": "Македония", "date": "2010-04", "value": 1031},
      {"country": "Македония", "date": "2010-07", "value": 1054},
      {"country": "Македония", "date": "2010-09", "value": 1122},
      {"country": "Македония", "date": "2010-11", "value": 1076},
      {"country": "Македония", "date": "2010-12", "value": 1122},
      {"country": "Македония", "date": "2011-02", "value": 1348},
      {"country": "Македония", "date": "2011-03", "value": 1348},
      {"country": "Македония", "date": "2011-05", "value": 1303},
      {"country": "Македония", "date": "2011-06", "value": 1290},
      {"country": "Македония", "date": "2011-08", "value": 1326},
      {"country": "Македония", "date": "2011-09", "value": 1235},
      {"country": "Македония", "date": "2011-10", "value": 1212},
      {"country": "Македония", "date": "2011-11", "value": 1303},
      {"country": "Македония", "date": "2012-02", "value": 1348},
      {"country": "Македония", "date": "2012-05", "value": 1258},
      {"country": "Македония", "date": "2012-06", "value": 1235},
      {"country": "Македония", "date": "2012-09", "value": 1326},
      {"country": "Македония", "date": "2012-10", "value": 1348},
      {"country": "Македония", "date": "2013-01", "value": 1483},
      {"country": "Македония", "date": "2013-02", "value": 1438},
      {"country": "Македония", "date": "2013-03", "value": 1370},
      {"country": "Македония", "date": "2013-06", "value": 1303},
      {"country": "Македония", "date": "2013-08", "value": 1348},
      {"country": "Македония", "date": "2013-10", "value": 1326},
      {"country": "Македония", "date": "2014-04", "value": 1280},
      {"country": "Македония", "date": "2014-05", "value": 1235},
      {"country": "Македония", "date": "2014-06", "value": 1551},
      {"country": "Македония", "date": "2014-07", "value": 1574},
      {"country": "Македония", "date": "2014-08", "value": 1506},
      {"country": "Македония", "date": "2014-10", "value": 1483},
      {"country": "Македония", "date": "2015-01", "value": 1348},
      {"country": "Македония", "date": "2015-02", "value": 1258},
      {"country": "Македония", "date": "2015-03", "value": 1235},
      {"country": "Македония", "date": "2015-04", "value": 1280},
      {"country": "Македония", "date": "2015-07", "value": 1167},
      {"country": "Македония", "date": "2015-11", "value": 1122},
      {"country": "Македония", "date": "2015-12", "value": 1190},
      {"country": "Македония", "date": "2016-02", "value": 1258},
      {"country": "Македония", "date": "2016-03", "value": 1190},
      {"country": "Македония", "date": "2016-06", "value": 1167},
      {"country": "Македония", "date": "2016-07", "value": 1394},

      {"country": "Украина", "date": "2006-07", "value": 398},
      {"country": "Украина", "date": "2006-08", "value": 420},
      {"country": "Украина", "date": "2006-10", "value": 466},
      {"country": "Украина", "date": "2007-02", "value": 512},
      {"country": "Украина", "date": "2007-04", "value": 534},
      {"country": "Украина", "date": "2007-07", "value": 624},
      {"country": "Украина", "date": "2007-09", "value": 669},
      {"country": "Украина", "date": "2007-12", "value": 692},
      {"country": "Украина", "date": "2008-02", "value": 737},
      {"country": "Украина", "date": "2008-04", "value": 783},
      {"country": "Украина", "date": "2008-07", "value": 828},
      {"country": "Украина", "date": "2008-08", "value": 828},
      {"country": "Украина", "date": "2008-09", "value": 760},
      {"country": "Украина", "date": "2008-10", "value": 715},
      {"country": "Украина", "date": "2008-12", "value": 669},
      {"country": "Украина", "date": "2009-01", "value": 601},
      {"country": "Украина", "date": "2009-03", "value": 556},
      {"country": "Украина", "date": "2009-04", "value": 624},
      {"country": "Украина", "date": "2009-06", "value": 647},
      {"country": "Украина", "date": "2009-08", "value": 624},
      {"country": "Украина", "date": "2009-10", "value": 601},
      {"country": "Украина", "date": "2010-01", "value": 579},
      {"country": "Украина", "date": "2010-04", "value": 601},
      {"country": "Украина", "date": "2010-05", "value": 669},
      {"country": "Украина", "date": "2010-07", "value": 715},
      {"country": "Украина", "date": "2010-09", "value": 760},
      {"country": "Украина", "date": "2010-10", "value": 737},
      {"country": "Украина", "date": "2011-02", "value": 805},
      {"country": "Украина", "date": "2011-03", "value": 851},
      {"country": "Украина", "date": "2011-06", "value": 815},
      {"country": "Украина", "date": "2011-07", "value": 851},
      {"country": "Украина", "date": "2011-08", "value": 737},
      {"country": "Украина", "date": "2011-11", "value": 737},
      {"country": "Украина", "date": "2012-02", "value": 692},
      {"country": "Украина", "date": "2012-05", "value": 669},
      {"country": "Украина", "date": "2012-06", "value": 669},
      {"country": "Украина", "date": "2012-08", "value": 624},
      {"country": "Украина", "date": "2012-10", "value": 556},
      {"country": "Украина", "date": "2013-03", "value": 534},
      {"country": "Украина", "date": "2013-06", "value": 512},
      {"country": "Украина", "date": "2013-08", "value": 466},
      {"country": "Украина", "date": "2013-09", "value": 398},
      {"country": "Украина", "date": "2013-10", "value": 444},
      {"country": "Украина", "date": "2014-01", "value": 376},
      {"country": "Украина", "date": "2014-02", "value": 330},
      {"country": "Украина", "date": "2014-03", "value": 376},
      {"country": "Украина", "date": "2014-06", "value": 398},
      {"country": "Украина", "date": "2014-10", "value": 308},
      {"country": "Украина", "date": "2014-11", "value": 172},
      {"country": "Украина", "date": "2015-01", "value": 149},
      {"country": "Украина", "date": "2015-02", "value": 262},
      {"country": "Украина", "date": "2015-05", "value": 262},
      {"country": "Украина", "date": "2015-07", "value": 285},
      {"country": "Украина", "date": "2015-09", "value": 330},
      {"country": "Украина", "date": "2015-11", "value": 330},
      {"country": "Украина", "date": "2016-02", "value": 339},
      {"country": "Украина", "date": "2016-04", "value": 353},
      {"country": "Украина", "date": "2016-07", "value": 376},

      {"country": "Грузия", "date": "2006-07", "value": 172},
      {"country": "Грузия", "date": "2006-09", "value": 200},
      {"country": "Грузия", "date": "2007-01", "value": 262},
      {"country": "Грузия", "date": "2007-05", "value": 308},
      {"country": "Грузия", "date": "2007-08", "value": 353},
      {"country": "Грузия", "date": "2007-10", "value": 376},
      {"country": "Грузия", "date": "2007-11", "value": 466},
      {"country": "Грузия", "date": "2007-12", "value": 430},
      {"country": "Грузия", "date": "2008-02", "value": 444},
      {"country": "Грузия", "date": "2008-04", "value": 466},
      {"country": "Грузия", "date": "2008-07", "value": 420},
      {"country": "Грузия", "date": "2008-08", "value": 330},
      {"country": "Грузия", "date": "2008-09", "value": 380},
      {"country": "Грузия", "date": "2008-11", "value": 353},
      {"country": "Грузия", "date": "2009-01", "value": 330},
      {"country": "Грузия", "date": "2009-04", "value": 398},
      {"country": "Грузия", "date": "2009-07", "value": 444},
      {"country": "Грузия", "date": "2009-10", "value": 534},
      {"country": "Грузия", "date": "2009-12", "value": 556},
      {"country": "Грузия", "date": "2010-02", "value": 579},
      {"country": "Грузия", "date": "2010-04", "value": 540},
      {"country": "Грузия", "date": "2010-06", "value": 489},
      {"country": "Грузия", "date": "2010-09", "value": 556},
      {"country": "Грузия", "date": "2010-12", "value": 579},
      {"country": "Грузия", "date": "2011-03", "value": 715},
      {"country": "Грузия", "date": "2011-06", "value": 692},
      {"country": "Грузия", "date": "2011-08", "value": 715},
      {"country": "Грузия", "date": "2011-10", "value": 737},
      {"country": "Грузия", "date": "2011-12", "value": 715},
      {"country": "Грузия", "date": "2012-05", "value": 783},
      {"country": "Грузия", "date": "2012-07", "value": 737},
      {"country": "Грузия", "date": "2012-09", "value": 783},
      {"country": "Грузия", "date": "2013-03", "value": 805},
      {"country": "Грузия", "date": "2013-06", "value": 828},
      {"country": "Грузия", "date": "2013-09", "value": 805},
      {"country": "Грузия", "date": "2014-01", "value": 692},
      {"country": "Грузия", "date": "2014-05", "value": 692},
      {"country": "Грузия", "date": "2014-07", "value": 737},
      {"country": "Грузия", "date": "2014-10", "value": 692},
      {"country": "Грузия", "date": "2014-12", "value": 715},
      {"country": "Грузия", "date": "2015-02", "value": 669},
      {"country": "Грузия", "date": "2015-12", "value": 669},
      {"country": "Грузия", "date": "2016-03", "value": 669},
      {"country": "Грузия", "date": "2016-05", "value": 760},
      {"country": "Грузия", "date": "2016-07", "value": 760},

      {"country": "Молдова", "date": "2006-07", "value": 172},
      {"country": "Молдова", "date": "2006-08", "value": 194},
      {"country": "Молдова", "date": "2006-10", "value": 194},
      {"country": "Молдова", "date": "2006-12", "value": 240},
      {"country": "Молдова", "date": "2007-02", "value": 262},
      {"country": "Молдова", "date": "2007-05", "value": 285},
      {"country": "Молдова", "date": "2007-07", "value": 330},
      {"country": "Молдова", "date": "2007-09", "value": 376},
      {"country": "Молдова", "date": "2007-11", "value": 420},
      {"country": "Молдова", "date": "2008-02", "value": 420},
      {"country": "Молдова", "date": "2008-04", "value": 444},
      {"country": "Молдова", "date": "2008-06", "value": 489},
      {"country": "Молдова", "date": "2008-07", "value": 512},
      {"country": "Молдова", "date": "2008-09", "value": 466},
      {"country": "Молдова", "date": "2008-12", "value": 444},
      {"country": "Молдова", "date": "2009-01", "value": 376},
      {"country": "Молдова", "date": "2009-03", "value": 330},
      {"country": "Молдова", "date": "2009-06", "value": 353},
      {"country": "Молдова", "date": "2009-08", "value": 398},
      {"country": "Молдова", "date": "2009-10", "value": 420},
      {"country": "Молдова", "date": "2010-01", "value": 444},
      {"country": "Молдова", "date": "2010-05", "value": 444},
      {"country": "Молдова", "date": "2010-07", "value": 489},
      {"country": "Молдова", "date": "2010-11", "value": 466},
      {"country": "Молдова", "date": "2010-12", "value": 512},
      {"country": "Молдова", "date": "2011-03", "value": 556},
      {"country": "Молдова", "date": "2011-06", "value": 534},
      {"country": "Молдова", "date": "2011-07", "value": 556},
      {"country": "Молдова", "date": "2011-09", "value": 579},
      {"country": "Молдова", "date": "2011-10", "value": 601},
      {"country": "Молдова", "date": "2012-02", "value": 601},
      {"country": "Молдова", "date": "2012-05", "value": 579},
      {"country": "Молдова", "date": "2012-07", "value": 647},
      {"country": "Молдова", "date": "2012-09", "value": 692},
      {"country": "Молдова", "date": "2012-11", "value": 715},
      {"country": "Молдова", "date": "2013-02", "value": 715},
      {"country": "Молдова", "date": "2013-06", "value": 737},
      {"country": "Молдова", "date": "2013-08", "value": 760},
      {"country": "Молдова", "date": "2013-09", "value": 805},
      {"country": "Молдова", "date": "2014-01", "value": 783},
      {"country": "Молдова", "date": "2014-03", "value": 760},
      {"country": "Молдова", "date": "2014-07", "value": 737},
      {"country": "Молдова", "date": "2014-09", "value": 760},
      {"country": "Молдова", "date": "2014-10", "value": 715},
      {"country": "Молдова", "date": "2014-11", "value": 624},
      {"country": "Молдова", "date": "2015-01", "value": 512},
      {"country": "Молдова", "date": "2015-02", "value": 489},
      {"country": "Молдова", "date": "2015-08", "value": 489},
      {"country": "Молдова", "date": "2015-11", "value": 466},
      {"country": "Молдова", "date": "2016-03", "value": 512},
      {"country": "Молдова", "date": "2016-05", "value": 534},
      {"country": "Молдова", "date": "2016-07", "value": 556},

      {"country": "Кыргызстан", "date": "2006-07", "value": 126},
      {"country": "Кыргызстан", "date": "2006-10", "value": 149},
      {"country": "Кыргызстан", "date": "2007-01", "value": 172},
      {"country": "Кыргызстан", "date": "2007-04", "value": 194},
      {"country": "Кыргызстан", "date": "2007-07", "value": 240},
      {"country": "Кыргызстан", "date": "2007-11", "value": 285},
      {"country": "Кыргызстан", "date": "2008-07", "value": 240},
      {"country": "Кыргызстан", "date": "2008-11", "value": 217},
      {"country": "Кыргызстан", "date": "2009-01", "value": 194},
      {"country": "Кыргызстан", "date": "2009-04", "value": 330},
      {"country": "Кыргызстан", "date": "2009-07", "value": 285},
      {"country": "Кыргызстан", "date": "2010-01", "value": 308},
      {"country": "Кыргызстан", "date": "2010-08", "value": 330},
      {"country": "Кыргызстан", "date": "2011-02", "value": 353},
      {"country": "Кыргызстан", "date": "2011-07", "value": 353},
      {"country": "Кыргызстан", "date": "2011-11", "value": 330},
      {"country": "Кыргызстан", "date": "2012-08", "value": 353},
      {"country": "Кыргызстан", "date": "2012-11", "value": 376},
      {"country": "Кыргызстан", "date": "2013-06", "value": 376},
      {"country": "Кыргызстан", "date": "2013-11", "value": 398},
      {"country": "Кыргызстан", "date": "2014-08", "value": 353},
      {"country": "Кыргызстан", "date": "2014-11", "value": 308},
      {"country": "Кыргызстан", "date": "2015-02", "value": 285},
      {"country": "Кыргызстан", "date": "2015-04", "value": 308},
      {"country": "Кыргызстан", "date": "2015-07", "value": 330},
      {"country": "Кыргызстан", "date": "2015-11", "value": 285},
      {"country": "Кыргызстан", "date": "2016-03", "value": 308},
      {"country": "Кыргызстан", "date": "2016-07", "value": 330},

      {"country": "Беларусь", "date": "2006-07", "value": 126},
      {"country": "Беларусь", "date": "2006-09", "value": 130},
      {"country": "Беларусь", "date": "2006-12", "value": 126},
      {"country": "Беларусь", "date": "2007-02", "value": 180},
      {"country": "Беларусь", "date": "2007-06", "value": 262},
      {"country": "Беларусь", "date": "2007-08", "value": 330},
      {"country": "Беларусь", "date": "2007-11", "value": 398},
      {"country": "Беларусь", "date": "2008-01", "value": 475},
      {"country": "Беларусь", "date": "2008-03", "value": 475},
      {"country": "Беларусь", "date": "2008-07", "value": 475},
      {"country": "Беларусь", "date": "2008-08", "value": 444},
      {"country": "Беларусь", "date": "2008-09", "value": 420},
      {"country": "Беларусь", "date": "2008-12", "value": 330},
      {"country": "Беларусь", "date": "2009-02", "value": 398},
      {"country": "Беларусь", "date": "2009-04", "value": 390},
      {"country": "Беларусь", "date": "2009-06", "value": 376},
      {"country": "Беларусь", "date": "2009-08", "value": 444},
      {"country": "Беларусь", "date": "2009-10", "value": 512},
      {"country": "Беларусь", "date": "2010-01", "value": 579},
      {"country": "Беларусь", "date": "2010-04", "value": 624},
      {"country": "Беларусь", "date": "2010-07", "value": 556},
      {"country": "Беларусь", "date": "2010-10", "value": 624},
      {"country": "Беларусь", "date": "2010-12", "value": 534},
      {"country": "Беларусь", "date": "2011-02", "value": 420},
      {"country": "Беларусь", "date": "2011-06", "value": 430},
      {"country": "Беларусь", "date": "2011-08", "value": 460},
      {"country": "Беларусь", "date": "2011-09", "value": 512},
      {"country": "Беларусь", "date": "2011-10", "value": 783},
      {"country": "Беларусь", "date": "2011-12", "value": 851},
      {"country": "Беларусь", "date": "2012-05", "value": 873},
      {"country": "Беларусь", "date": "2012-08", "value": 860},
      {"country": "Беларусь", "date": "2012-11", "value": 851},
      {"country": "Беларусь", "date": "2013-03", "value": 873},
      {"country": "Беларусь", "date": "2013-06", "value": 828},
      {"country": "Беларусь", "date": "2013-09", "value": 737},
      {"country": "Беларусь", "date": "2013-12", "value": 647},
      {"country": "Беларусь", "date": "2014-05", "value": 579},
      {"country": "Беларусь", "date": "2014-06", "value": 692},
      {"country": "Беларусь", "date": "2014-08", "value": 647},
      {"country": "Беларусь", "date": "2014-11", "value": 534},
      {"country": "Беларусь", "date": "2014-12", "value": 489},
      {"country": "Беларусь", "date": "2015-09", "value": 489},
      {"country": "Беларусь", "date": "2015-11", "value": 444},
      {"country": "Беларусь", "date": "2016-02", "value": 420},
      {"country": "Беларусь", "date": "2016-05", "value": 444},
      {"country": "Беларусь", "date": "2016-07", "value": 489}
    ],
    "endLabels": [
      {"label": "Чех.", "date": "2016-07", "value": 7138},
      {"label": "Каз.", "date": "2016-07", "value": 5333},
      {"label": "Азер", "date": "2016-07", "value": 4062},
      {"label": "Бол.", "date": "2016-07", "value": 3587},
      {"label": "Пол.", "date": "2016-07", "value": 2935},
      {"label": "Вен.", "date": "2016-07", "value": 2792},
      {"label": "Рос.", "date": "2016-07", "value": 2645},
      {"label": "Рум.", "date": "2016-07", "value": 2026},
      {"label": "Серб", "date": "2016-07", "value": 1560},
      {"label": "Мак.", "date": "2016-07", "value": 1345},
      {"label": "Груз", "date": "2016-07", "value": 783},
      {"label": "Мол.", "date": "2016-07", "value": 645},
      {"label": "Бел.", "date": "2016-07", "value": 516},
      {"label": "Укр.", "date": "2016-07", "value": 387},
      {"label": "Кыр.", "date": "2016-07", "value": 258}
    ],
    "peakLabels": [
      {"label": "Чех.", "date": "2007-02-15", "value": 3203},
      {"label": "Рос.", "date": "2008-08-01", "value": 4265},
      {"label": "Вен.", "date": "2011-07-15", "value": 5541},
      {"label": "Каз.", "date": "2014-09-15", "value": 6134}
    ],
    "logo": [
      {"label": "БГ", "date": "2015-05-15", "value": 7409},
      {"label": "ДЕЛОВАЯ ГАЗЕТА", "date": "2015-08-18", "value": 7409},
      {"label": "bdg.by", "date": "2016-04-12", "value": 7258}
    ]
  },
  "encoding": {
    "x": {
      "field": "date",
      "type": "temporal",
      "scale": {
        "type": "utc",
        "domain": [
          {"year": 2006, "month": 7, "date": 1, "utc": true},
          {"year": 2016, "month": 7, "date": 1, "utc": true}
        ]
      },
      "axis": {
        "title": null,
        "grid": false,
        "values": [
          {"year": 2006, "month": 7, "date": 1, "utc": true},
          {"year": 2007, "month": 7, "date": 1, "utc": true},
          {"year": 2008, "month": 7, "date": 1, "utc": true},
          {"year": 2009, "month": 7, "date": 1, "utc": true},
          {"year": 2010, "month": 7, "date": 1, "utc": true},
          {"year": 2011, "month": 7, "date": 1, "utc": true},
          {"year": 2012, "month": 7, "date": 1, "utc": true},
          {"year": 2013, "month": 7, "date": 1, "utc": true},
          {"year": 2014, "month": 7, "date": 1, "utc": true},
          {"year": 2015, "month": 7, "date": 1, "utc": true},
          {"year": 2016, "month": 7, "date": 1, "utc": true}
        ],
        "labelExpr": "'июл.' + utcFormat(datum.value, '%y')",
        "labelFont": "Lato",
        "labelFontSize": 11,
        "labelFontWeight": "bold",
        "labelColor": "#222222",
        "labelPadding": 3,
        "labelFlush": false,
        "labelOverlap": false,
        "tickSize": 4,
        "tickColor": "#333333",
        "domainColor": "#333333"
      }
    },
    "y": {
      "field": "value",
      "type": "quantitative",
      "scale": {"domain": [0, 7200], "nice": false, "zero": true},
      "axis": {
        "values": [0, 1000, 2000, 3000, 4000, 5000, 6000, 7000],
        "format": "d",
        "title": "$/чел.",
        "titleAngle": 0,
        "titleAlign": "left",
        "titleBaseline": "alphabetic",
        "titleX": -33,
        "titleY": -9,
        "titleFont": "Lato",
        "titleFontSize": 15,
        "titleFontWeight": "bold",
        "titleColor": "#111111",
        "grid": true,
        "gridColor": "#8c8c8c",
        "gridWidth": 1,
        "tickSize": 3,
        "tickColor": "#8c8c8c",
        "domainColor": "#555555",
        "labelFont": "Lato",
        "labelFontSize": 11,
        "labelFontWeight": "bold",
        "labelColor": "#222222",
        "labelPadding": 3
      }
    }
  },
  "layer": [
    {
      "data": {"name": "series"},
      "mark": {"type": "line", "strokeWidth": 2.5, "strokeJoin": "round"},
      "encoding": {
        "color": {
          "field": "country",
          "type": "nominal",
          "scale": {
            "domain": ["Беларусь", "Болгария", "Венгрия", "Грузия", "Казахстан", "Кыргызстан", "Македония", "Молдова", "Польша", "Россия", "Румыния", "Сербия", "Украина", "Чехия", "Азербайджан"],
            "range": ["#000000", "#14a050", "#18867a", "#c4441c", "#72aaf0", "#9a9a9a", "#f26e22", "#0a14d8", "#cc1d9e", "#f01414", "#9ded3d", "#3c6fe0", "#fcc21c", "#3c3ce6", "#3f3f3f"]
          },
          "legend": {
            "title": null,
            "orient": "none",
            "legendX": 1.5,
            "legendY": 26,
            "direction": "horizontal",
            "columns": 2,
            "symbolType": "M-1.6,0H1.6",
            "symbolSize": 324,
            "symbolStrokeWidth": 3,
            "symbolOffset": 4,
            "labelFont": "Lato",
            "labelFontSize": 12,
            "labelColor": "#111111",
            "labelOffset": 6,
            "labelLimit": 200,
            "rowPadding": 4,
            "columnPadding": 0,
            "padding": 2,
            "fillColor": "white"
          }
        },
        "strokeDash": {
          "field": "country",
          "type": "nominal",
          "scale": {
            "domain": ["Беларусь", "Болгария", "Венгрия", "Грузия", "Казахстан", "Кыргызстан", "Македония", "Молдова", "Польша", "Россия", "Румыния", "Сербия", "Украина", "Чехия", "Азербайджан"],
            "range": [[6, 3], [1, 0], [1, 0], [1, 0], [1, 0], [1, 0], [1, 0], [1, 0], [1, 0], [1, 0], [1, 0], [1, 0], [1, 0], [1, 0], [1, 0]]
          },
          "legend": {
            "title": null,
            "orient": "none",
            "legendX": 1.5,
            "legendY": 26,
            "direction": "horizontal",
            "columns": 2,
            "symbolType": "M-1.6,0H1.6",
            "symbolSize": 324,
            "symbolStrokeWidth": 3,
            "symbolOffset": 4,
            "labelFont": "Lato",
            "labelFontSize": 12,
            "labelColor": "#111111",
            "labelOffset": 6,
            "labelLimit": 200,
            "rowPadding": 4,
            "columnPadding": 0,
            "padding": 2,
            "fillColor": "white"
          }
        }
      }
    },
    {
      "data": {"name": "peakLabels"},
      "mark": {"type": "text", "align": "center", "baseline": "middle", "font": "Lato", "fontSize": 10.5, "fontWeight": "bold", "color": "#1a1a1a"},
      "encoding": {"text": {"field": "label"}}
    },
    {
      "data": {"name": "endLabels"},
      "mark": {"type": "text", "align": "left", "baseline": "middle", "dx": 3, "font": "Lato", "fontSize": 9, "fontWeight": "bold", "color": "#1a1a1a"},
      "encoding": {"text": {"field": "label"}}
    },
    {
      "data": {"name": "logo"},
      "transform": [{"filter": "datum.label == 'БГ'"}],
      "mark": {"type": "text", "align": "center", "baseline": "alphabetic", "font": "Liberation Serif", "fontSize": 17, "fontWeight": "bold", "color": "#111111"},
      "encoding": {"text": {"field": "label"}}
    },
    {
      "data": {"name": "logo"},
      "transform": [{"filter": "datum.label == 'ДЕЛОВАЯ ГАЗЕТА'"}],
      "mark": {"type": "text", "align": "left", "baseline": "alphabetic", "font": "Liberation Serif", "fontSize": 7.3, "fontWeight": "bold", "color": "#111111"},
      "encoding": {"text": {"field": "label"}}
    },
    {
      "data": {"name": "logo"},
      "transform": [{"filter": "datum.label == 'bdg.by'"}],
      "mark": {"type": "text", "align": "center", "baseline": "alphabetic", "font": "Liberation Serif", "fontSize": 8, "fontWeight": "bold", "color": "#111111"},
      "encoding": {"text": {"field": "label"}}
    }
  ]
}
